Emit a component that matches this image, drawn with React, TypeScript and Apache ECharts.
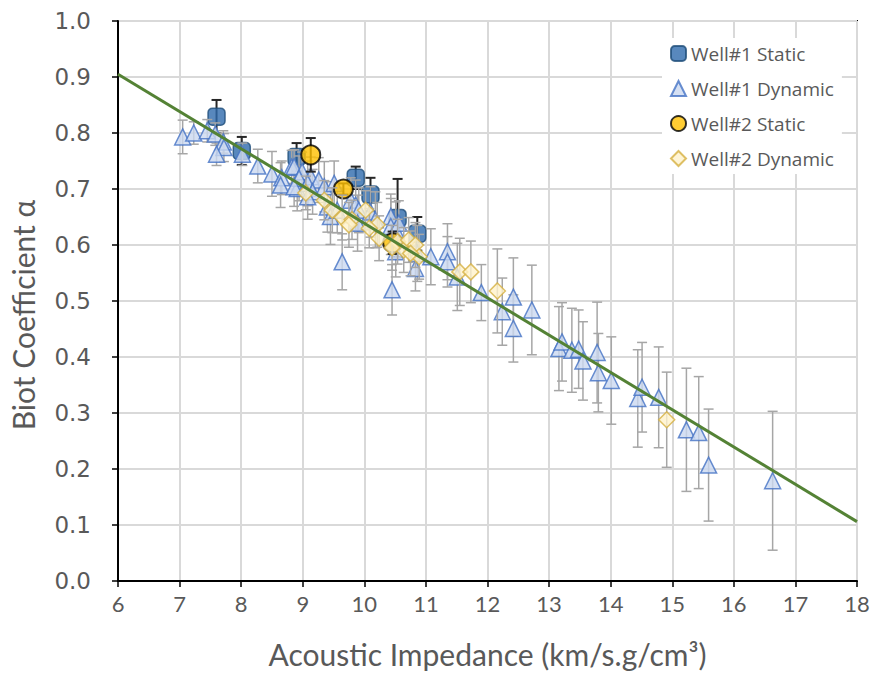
import React, { useEffect, useRef } from "react";
import * as echarts from "echarts";

// ---- Data ----
const W1_STATIC_X = [7.6, 8.01, 8.9, 9.86, 10.1, 10.54, 10.86];
const W1_STATIC_Y = [0.829, 0.768, 0.757, 0.72, 0.69, 0.648, 0.62];
const W1_STATIC_ERR = [0.03, 0.025, 0.025, 0.02, 0.03, 0.07, 0.03];

const W1_DYN_X = [
  7.05, 7.23, 7.45, 7.58, 7.71, 7.72, 7.6, 8.02, 8.27, 8.5, 8.66, 8.64, 8.82, 8.91,
  8.86, 8.99, 8.94, 9.13, 9.08, 9.26, 9.35, 9.51, 9.16, 8.86, 9.08, 9.4, 9.45, 9.56,
  9.78, 9.86, 9.91, 9.89, 10.1, 10.18, 10.43, 10.43, 10.51, 10.56, 9.64, 10.45, 10.83,
  11.08, 11.35, 11.35, 10.51, 10.86, 11.51, 11.9, 12.24, 12.42, 12.42, 12.72, 13.16,
  13.21, 13.37, 13.48, 13.55, 13.78, 13.8, 14.01, 14.44, 14.51, 14.78, 15.23, 15.43,
  15.59, 16.63,
];
const W1_DYN_Y = [
  0.793, 0.8, 0.804, 0.798, 0.784, 0.774, 0.762, 0.762, 0.741, 0.727, 0.72, 0.707, 0.739, 0.701,
  0.74, 0.731, 0.719, 0.722, 0.71, 0.716, 0.704, 0.71, 0.695, 0.704, 0.686, 0.668, 0.651, 0.662,
  0.68, 0.671, 0.662, 0.639, 0.659, 0.645, 0.651, 0.633, 0.627, 0.639, 0.57, 0.52, 0.558,
  0.579, 0.588, 0.57, 0.588, 0.585, 0.543, 0.515, 0.481, 0.507, 0.451, 0.484, 0.415,
  0.427, 0.412, 0.414, 0.393, 0.408, 0.372, 0.358, 0.326, 0.346, 0.328, 0.27, 0.265,
  0.207, 0.179,
];
const W1_DYN_ERR = [
  0.03, 0.02, 0.02, 0.02, 0.02, 0.025, 0.02, 0.02, 0.03, 0.04, 0.03, 0.04, 0.03, 0.04,
  0.03, 0.035, 0.04, 0.035, 0.04, 0.04, 0.045, 0.04, 0.04, 0.035, 0.04, 0.045, 0.05, 0.04,
  0.04, 0.045, 0.04, 0.05, 0.045, 0.05, 0.04, 0.05, 0.05, 0.04, 0.05, 0.045, 0.04,
  0.05, 0.05, 0.045, 0.045, 0.05, 0.06, 0.05, 0.06, 0.07, 0.06, 0.08, 0.075,
  0.07, 0.075, 0.07, 0.07, 0.09, 0.07, 0.078, 0.087, 0.08, 0.09, 0.11, 0.1,
  0.1, 0.124,
];

const W2_STATIC_X = [9.13, 9.66, 10.46];
const W2_STATIC_Y = [0.761, 0.7, 0.604];
const W2_STATIC_ERR = [0.03, 0.01, 0.02];

const W2_DYN_X = [
  9.05, 9.35, 9.48, 9.64, 9.8, 9.75, 10.02, 10.21, 10.24, 10.08, 10.54, 10.64, 10.72,
  10.83, 10.89, 10.75, 10.45, 11.55, 11.73, 12.16, 14.91,
];
const W2_DYN_Y = [
  0.693, 0.68, 0.662, 0.649, 0.645, 0.636, 0.662, 0.636, 0.612, 0.63, 0.606, 0.591, 0.609,
  0.6, 0.579, 0.585, 0.595, 0.552, 0.552, 0.518, 0.288,
];
const W2_DYN_ERR = [
  0.03, 0.035, 0.04, 0.04, 0.035, 0.04, 0.035, 0.04, 0.04, 0.035, 0.04, 0.04, 0.04,
  0.04, 0.04, 0.04, 0.04, 0.06, 0.055, 0.075, 0.085,
];

const TREND_X = [6, 18];
const TREND_Y = [0.905, 0.106];

const X_TICKS = [6, 7, 8, 9, 10, 11, 12, 13, 14, 15, 16, 17, 18];

const NAMES = ["Well#1 Static", "Well#1 Dynamic", "Well#2 Static", "Well#2 Dynamic"];

const zip = (xs: number[], ys: number[], es?: number[]) =>
  xs.map((x, i) => (es ? [x, ys[i], es[i]] : [x, ys[i]]));

function errSeries(name: string, data: number[][], color: string, width: number, z: number) {
  return {
    type: "custom",
    name,
    z,
    silent: true,
    data,
    encode: { x: 0, y: 1 },
    renderItem: (params: any, api: any) => {
      const x = api.value(0);
      const y = api.value(1);
      const e = api.value(2);
      const top = api.coord([x, y + e]);
      const bot = api.coord([x, y - e]);
      const cw = 5;
      const style = { stroke: color, lineWidth: width };
      return {
        type: "group",
        children: [
          { type: "line", shape: { x1: top[0], y1: top[1], x2: bot[0], y2: bot[1] }, style },
          { type: "line", shape: { x1: top[0] - cw, y1: top[1], x2: top[0] + cw, y2: top[1] }, style },
          { type: "line", shape: { x1: bot[0] - cw, y1: bot[1], x2: bot[0] + cw, y2: bot[1] }, style },
        ],
      };
    },
  };
}

export default function App() {
  const ref = useRef<HTMLDivElement>(null);
  useEffect(() => {
    if (!ref.current) return;
    const chart = echarts.init(ref.current, undefined, { renderer: "svg" });
    const textColor = "#595959";
    const option: any = {
      animation: false,
      backgroundColor: "#fff",
      grid: {
        left: 117,
        right: 18,
        top: 21,
        bottom: 94,
        show: true,
        borderColor: "#000",
        borderWidth: 2,
        backgroundColor: "transparent",
      },
      legend: {
        data: NAMES,
        orient: "vertical",
        left: 662,
        top: 38,
        backgroundColor: "#fff",
        padding: [6, 8, 6, 8],
        itemWidth: 15,
        itemHeight: 15,
        itemGap: 16,
        textStyle: { color: textColor, fontSize: 19, fontFamily: "Open Sans" },
        selectedMode: false,
        z: 20,
      },
      xAxis: {
        type: "value",
        min: 6,
        max: 18,
        interval: 1,
        name: "Acoustic Impedance (km/s.g/cm³)",
        nameLocation: "middle",
        nameGap: 58,
        nameTextStyle: { color: textColor, fontSize: 30, fontFamily: "Lato" },
        axisLine: { show: true, lineStyle: { color: "#000", width: 2 } },
        axisTick: { show: true, inside: false, length: 6, lineStyle: { color: "#000", width: 1.5 } },
        axisLabel: {
          color: textColor,
          fontSize: 22,
          fontFamily: "Lato",
          margin: 11,
          formatter: (v: number) => (X_TICKS.includes(v) ? String(v) : ""),
        },
        splitLine: { show: true, lineStyle: { color: "#d9d9d9", width: 2 } },
      },
      yAxis: {
        type: "value",
        min: 0,
        max: 1,
        interval: 0.1,
        name: "Biot Coefficient α",
        nameLocation: "middle",
        nameGap: 80,
        nameTextStyle: { color: textColor, fontSize: 30, fontFamily: "Lato", padding: [0, 28, 0, 0] },
        axisLine: { show: true, lineStyle: { color: "#000", width: 2 } },
        axisTick: { show: true, inside: false, length: 6, lineStyle: { color: "#000", width: 1.5 } },
        axisLabel: {
          color: textColor,
          fontSize: 23,
          fontFamily: "DejaVu Sans",
          margin: 27,
          formatter: (v: number) => v.toFixed(1),
        },
        splitLine: { show: true, lineStyle: { color: "#d9d9d9", width: 2 } },
      },
      series: [
        errSeries("err-w1s", zip(W1_STATIC_X, W1_STATIC_Y, W1_STATIC_ERR), "#262626", 2, 2),
        {
          type: "scatter",
          name: NAMES[0],
          z: 3,
          symbol: "roundRect",
          symbolSize: 17,
          itemStyle: { color: "#2e6aad", borderColor: "#1f4e79", borderWidth: 1.5 },
          data: zip(W1_STATIC_X, W1_STATIC_Y),
        },
        errSeries("err-w1d", zip(W1_DYN_X, W1_DYN_Y, W1_DYN_ERR), "#a6a6a6", 1.5, 4),
        {
          type: "scatter",
          name: NAMES[1],
          z: 5,
          symbol: "triangle",
          symbolSize: 16,
          itemStyle: { color: "#cad8f0", borderColor: "#4472c4", borderWidth: 1.5 },
          data: zip(W1_DYN_X, W1_DYN_Y),
        },
        errSeries("err-w2s", zip(W2_STATIC_X, W2_STATIC_Y, W2_STATIC_ERR), "#262626", 2, 6),
        {
          type: "scatter",
          name: NAMES[2],
          z: 7,
          symbol: "circle",
          symbolSize: 19,
          itemStyle: { color: "#ffc000", borderColor: "#000", borderWidth: 2 },
          data: zip(W2_STATIC_X, W2_STATIC_Y),
        },
        errSeries("err-w2d", zip(W2_DYN_X, W2_DYN_Y, W2_DYN_ERR), "#a6a6a6", 1.5, 8),
        {
          type: "scatter",
          name: NAMES[3],
          z: 9,
          symbol: "diamond",
          symbolSize: 16,
          itemStyle: { color: "#fff2cc", borderColor: "#d6b041", borderWidth: 1.5 },
          data: zip(W2_DYN_X, W2_DYN_Y),
        },
        {
          type: "line",
          name: "trend",
          z: 10,
          symbol: "none",
          silent: true,
          lineStyle: { color: "#548235", width: 3 },
          data: zip(TREND_X, TREND_Y),
        },
      ],
    };
    chart.setOption(option);
    return () => chart.dispose();
  }, []);
  return <div ref={ref} style={{ width: 875, height: 675, position: "absolute", left: 0, top: 0 }} />;
}
